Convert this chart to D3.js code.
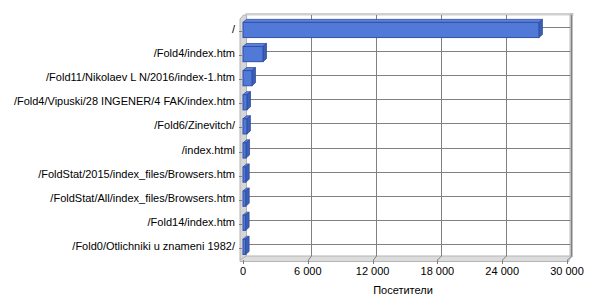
<!DOCTYPE html>
<html>
<head>
<meta charset="utf-8">
<script src="https://cdn.jsdelivr.net/npm/d3@7"></script>
<style>
  body { margin: 0; background: #fff; }
  text { font-family: "Liberation Sans", Arial, sans-serif; font-size: 11px; fill: #000; }
</style>
</head>
<body>
<div class="chart"></div>
<script>
// data
let pages = [
  '/',
  '/Fold4/index.htm',
  '/Fold11/Nikolaev L N/2016/index-1.htm',
  '/Fold4/Vipuski/28 INGENER/4 FAK/index.htm',
  '/Fold6/Zinevitch/',
  '/index.html',
  '/FoldStat/2015/index_files/Browsers.htm',
  '/FoldStat/All/index_files/Browsers.htm',
  '/Fold14/index.htm',
  '/Fold0/Otlichniki u znameni 1982/'
];
let visitors = [27400, 1850, 830, 370, 360, 280, 250, 250, 240, 240];
let xTicks = [0, 6000, 12000, 18000, 24000, 30000];
let axisTitle = 'Посетители';

let width = 600, height = 300;
// depth offset of the 3d box
let dx = 3.5, dy = -4;

let svg = d3.select('.chart')
  .append('svg')
  .attr('width', width)
  .attr('height', height);

let xScale = d3.scaleLinear()
  .domain([0, 30000])
  .range([243, 567]);

let yScale = d3.scaleBand()
  .domain(pages)
  .range([19, 260]);

let bw = yScale.bandwidth();
let x0 = xScale(0), x1 = xScale(30000);
let yTop = 19, yBot = 260;
let fmt = v => d3.format(',')(v).replace(/,/g, ' ');

// back wall
svg.append('rect')
  .attr('x', x0 + dx).attr('y', yTop + dy)
  .attr('width', x1 - x0).attr('height', yBot - yTop)
  .attr('fill', '#fff');

// top edge of back wall
svg.append('rect')
  .attr('x', x0 + dx - 1).attr('y', yTop + dy - 2)
  .attr('width', x1 - x0 + 4).attr('height', 2.5)
  .attr('fill', '#d0d0d0');

// right side of back wall
svg.append('rect')
  .attr('x', x1 + dx - 1).attr('y', yTop + dy - 2)
  .attr('width', 3.5).attr('height', yBot - yTop + 3)
  .attr('fill', '#c0c0c0');

// left wall
svg.append('polygon')
  .attr('points', [
    [x0 - 3, yTop], [x0 - 3 + dx, yTop + dy], [x0 + dx, yTop + dy],
    [x0 + dx, yBot + dy], [x0, yBot], [x0 - 3, yBot]
  ].join(' '))
  .attr('fill', '#d6d6d6')
  .attr('stroke', '#b4b4b4')
  .attr('stroke-width', 1);

// floor
svg.append('polygon')
  .attr('points', [
    [x0 - 3, yBot], [x0 + dx, yBot + dy], [x1 + dx + 2, yBot + dy],
    [x1 + 2, yBot], [x1 + 2, yBot + 1.5], [x0 - 3, yBot + 1.5]
  ].join(' '))
  .attr('fill', '#dcdcdc')
  .attr('stroke', '#b4b4b4')
  .attr('stroke-width', 1);

// vertical gridlines, down the floor to the ticks
let grid = svg.append('g')
  .attr('stroke', '#808080')
  .attr('stroke-width', 1)
  .attr('fill', 'none');

grid.selectAll('.vgrid')
  .data(xTicks.slice(1))
  .enter()
  .append('polyline')
  .attr('points', d => [
    [Math.round(xScale(d) + dx) + 0.5, yTop + dy],
    [Math.round(xScale(d) + dx) + 0.5, yBot + dy],
    [Math.round(xScale(d)) + 0.5, yBot],
    [Math.round(xScale(d)) + 0.5, yBot + 4]
  ].join(' '));

// zero tick
grid.append('line')
  .attr('x1', Math.round(x0) + 0.5).attr('x2', Math.round(x0) + 0.5)
  .attr('y1', yBot).attr('y2', yBot + 4);

// horizontal gridlines on the back wall
grid.selectAll('.hgrid')
  .data(pages)
  .enter()
  .append('line')
  .attr('x1', x0 + dx).attr('x2', x1 + dx)
  .attr('y1', d => Math.round(yScale(d) + bw / 2 + dy) + 0.5)
  .attr('y2', d => Math.round(yScale(d) + bw / 2 + dy) + 0.5);

// category ticks on the left wall
grid.selectAll('.ytick')
  .data(pages)
  .enter()
  .append('line')
  .attr('x1', x0 - 4).attr('x2', x0 - 1)
  .attr('y1', d => Math.round(yScale(d) + bw / 2) + 0.5)
  .attr('y2', d => Math.round(yScale(d) + bw / 2) + 0.5);

// 3d bars
let bdx = 3.5, bdy = -3;
let bars = svg.selectAll('.bar')
  .data(pages)
  .enter()
  .append('g');

let by = d => yScale(d) + bw * 0.14;
let bh = bw * 0.63;

// top face
bars.append('polygon')
  .attr('points', (d, i) => [
    [x0, by(d)], [x0 + bdx, by(d) + bdy],
    [xScale(visitors[i]) + bdx, by(d) + bdy], [xScale(visitors[i]), by(d)]
  ].join(' '))
  .attr('fill', '#5a82dc')
  .attr('stroke', '#3452a4')
  .attr('stroke-width', 0.8);

// side face
bars.append('polygon')
  .attr('points', (d, i) => [
    [xScale(visitors[i]), by(d)], [xScale(visitors[i]) + bdx, by(d) + bdy],
    [xScale(visitors[i]) + bdx, by(d) + bdy + bh], [xScale(visitors[i]), by(d) + bh]
  ].join(' '))
  .attr('fill', '#3d5fb4')
  .attr('stroke', '#2f4c9c')
  .attr('stroke-width', 0.8);

// front face
bars.append('rect')
  .attr('x', x0)
  .attr('y', d => by(d))
  .attr('width', (d, i) => xScale(visitors[i]) - x0)
  .attr('height', bh)
  .attr('fill', '#5079d8')
  .attr('stroke', '#3050a8')
  .attr('stroke-width', 1);

// category labels
svg.selectAll('.ylabel')
  .data(pages)
  .enter()
  .append('text')
  .attr('x', 235)
  .attr('y', d => yScale(d) + bw / 2 + 2)
  .style('text-anchor', 'end')
  .text(d => d);

// value tick labels
svg.selectAll('.xlabel')
  .data(xTicks)
  .enter()
  .append('text')
  .attr('x', d => xScale(d))
  .attr('y', 275)
  .style('text-anchor', 'middle')
  .text(d => fmt(d));

// axis title
svg.append('text')
  .attr('x', 403)
  .attr('y', 294)
  .style('text-anchor', 'middle')
  .text(axisTitle);
</script>
</body>
</html>
